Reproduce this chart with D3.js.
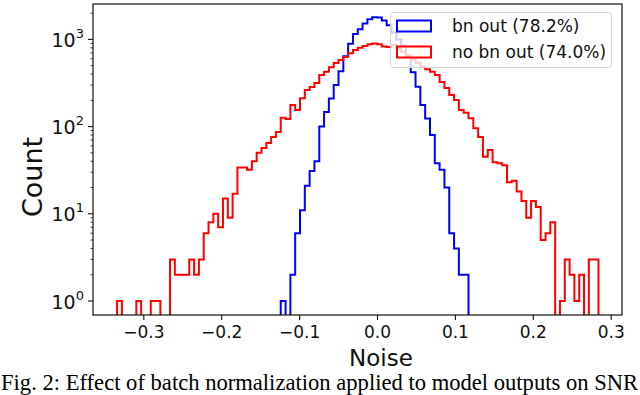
<!DOCTYPE html>
<html>
<head>
<meta charset="utf-8">
<script src="https://cdn.jsdelivr.net/npm/d3@7"></script>
<style>
  body { margin: 0; background: #fff; }
  svg { display: block; }
</style>
</head>
<body>
<script>
// shared histogram bins (100 bins over the "no bn out" range)
var binStart = -0.3337;
var binWidth = 0.00618;

// counts per bin, "no bn out" (red), starting at binStart
var redCounts = [
    1, 0, 0, 0, 1, 0, 0, 1, 1, 0,
    0, 3, 2, 2, 2, 3, 2, 3, 6, 8,
    10, 7, 15, 9, 17, 34, 34, 32, 40, 50,
    57, 65, 76, 87, 126, 122, 177, 155, 212, 263,
    284, 316, 390, 425, 480, 535, 580, 630, 695, 755,
    800, 840, 880, 900, 880, 830, 820, 860, 780, 720,
    660, 590, 540, 490, 455, 425, 390, 325, 277, 230,
    202, 155, 144, 125, 96, 76, 45, 54, 39, 38,
    36, 23, 24, 18, 14, 9, 14, 12, 5, 6,
    8, 0, 1, 3, 2, 1, 2, 0, 3, 3
];

// counts per bin, "bn out" (blue), starting at bin 34 of the shared bins
var blueStart = -0.12358;
var blueCounts = [
    1, 0, 2, 6, 11, 21, 31, 40, 100, 147,
    210, 300, 430, 640, 890, 1150, 1310, 1520, 1700, 1800,
    1780, 1650, 1450, 1200, 1000, 850, 630, 420, 286, 177,
    124, 80, 38, 32, 20, 6, 4, 2, 2
];

var xTicks = [-0.3, -0.2, -0.1, 0.0, 0.1, 0.2, 0.3];
var yTicks = [1, 10, 100, 1000];
var yTickExp = ['0', '1', '2', '3'];
var yMinor = [2, 3, 4, 5, 6, 7, 8, 9, 20, 30, 40, 50, 60, 70, 80, 90,
              200, 300, 400, 500, 600, 700, 800, 900, 2000];

var legendLabels = ['bn out (78.2%)', 'no bn out (74.0%)'];
var seriesColors = ['#0000ff', '#ff0000'];

var W = 640, H = 395;
var pLeft = 93, pRight = 622, pTop = 4, pBottom = 315;

var svg = d3.select('body').append('svg')
    .attr('width', W)
    .attr('height', H)
    .attr('font-family', 'DejaVu Sans, sans-serif');

var x = d3.scaleLinear().domain([-0.3646, 0.3145]).range([pLeft, pRight]);
var y = d3.scaleLog().domain([0.691, 2547]).range([pBottom, pTop]);

svg.append('clipPath').attr('id', 'plot')
    .append('rect')
    .attr('x', pLeft).attr('y', pTop)
    .attr('width', pRight - pLeft).attr('height', pBottom - pTop);

function stepPoints(start, counts) {
    var pts = [[start, 0.1]];
    counts.forEach(function(c, i) {
        var v = c > 0 ? c : 0.1;
        pts.push([start + i * binWidth, v]);
        pts.push([start + (i + 1) * binWidth, v]);
    });
    pts.push([start + counts.length * binWidth, 0.1]);
    return pts;
}

var line = d3.line()
    .x(function(d) { return x(d[0]); })
    .y(function(d) { return Math.min(y(d[1]), pBottom + 20); });

var series = [
    { pts: stepPoints(blueStart, blueCounts), color: seriesColors[0] },
    { pts: stepPoints(binStart, redCounts), color: seriesColors[1] }
];

svg.append('g').attr('clip-path', 'url(#plot)')
    .selectAll('path').data(series).enter().append('path')
    .attr('d', function(d) { return line(d.pts); })
    .attr('fill', 'none')
    .attr('stroke', function(d) { return d.color; })
    .attr('stroke-width', 2)
    .attr('stroke-linejoin', 'miter');

// frame
svg.append('rect')
    .attr('x', pLeft).attr('y', pTop)
    .attr('width', pRight - pLeft).attr('height', pBottom - pTop)
    .attr('fill', 'none')
    .attr('stroke', '#111')
    .attr('stroke-width', 1.2);

// x axis
var xAxis = d3.axisBottom(x)
    .tickValues(xTicks)
    .tickFormat(d3.format('.1f'))
    .tickSize(5)
    .tickPadding(6);

var gx = svg.append('g')
    .attr('transform', 'translate(0,' + pBottom + ')')
    .call(xAxis);
gx.select('.domain').remove();
gx.selectAll('line').attr('stroke', '#111').attr('stroke-width', 1.1);
gx.selectAll('text')
    .attr('font-size', 17)
    .attr('fill', '#111')
    .attr('font-family', 'DejaVu Sans, sans-serif');

// y axis (log)
var gy = svg.append('g');
gy.selectAll('line.minor').data(yMinor).enter().append('line')
    .attr('class', 'minor')
    .attr('x1', pLeft - 2.5).attr('x2', pLeft)
    .attr('y1', function(d) { return y(d); })
    .attr('y2', function(d) { return y(d); })
    .attr('stroke', '#111')
    .attr('stroke-width', 0.8);

gy.selectAll('line.major').data(yTicks).enter().append('line')
    .attr('class', 'major')
    .attr('x1', pLeft - 5).attr('x2', pLeft)
    .attr('y1', function(d) { return y(d); })
    .attr('y2', function(d) { return y(d); })
    .attr('stroke', '#111')
    .attr('stroke-width', 1.1);

var ylab = gy.selectAll('text').data(yTicks).enter().append('text')
    .attr('x', 84)
    .attr('y', function(d) { return y(d) + 7.5; })
    .attr('text-anchor', 'end')
    .attr('font-size', 19)
    .attr('fill', '#111');
ylab.append('tspan').text('10');
ylab.append('tspan')
    .attr('dy', -9)
    .attr('font-size', 13)
    .text(function(d, i) { return yTickExp[i]; });

// axis titles
svg.append('text')
    .attr('x', 381)
    .attr('y', 366)
    .attr('text-anchor', 'middle')
    .attr('font-size', 23)
    .attr('fill', '#111')
    .text('Noise');

svg.append('text')
    .attr('transform', 'translate(42,177) rotate(-90)')
    .attr('text-anchor', 'middle')
    .attr('font-size', 27)
    .attr('fill', '#111')
    .text('Count');

// legend
var lg = svg.append('g');
lg.append('rect')
    .attr('x', 390.5).attr('y', 12.5)
    .attr('width', 221).attr('height', 55)
    .attr('rx', 3)
    .attr('fill', '#fff')
    .attr('fill-opacity', 0.8)
    .attr('stroke', '#d5d5d5')
    .attr('stroke-width', 1);

var items = lg.selectAll('g.item').data(legendLabels).enter().append('g')
    .attr('class', 'item')
    .attr('transform', function(d, i) { return 'translate(0,' + (i * 26) + ')'; });

items.append('rect')
    .attr('x', 397).attr('y', 20.5)
    .attr('width', 34).attr('height', 11)
    .attr('fill', 'none')
    .attr('stroke', function(d, i) { return seriesColors[i]; })
    .attr('stroke-width', 2);

items.append('text')
    .attr('x', 452).attr('y', 32)
    .attr('font-size', 17)
    .attr('fill', '#111')
    .text(function(d) { return d; });

// caption
svg.append('text')
    .attr('x', 1)
    .attr('y', 390)
    .attr('font-family', 'Liberation Serif, Times New Roman, serif')
    .attr('font-size', 22.6)
    .attr('fill', '#000')
    .text('Fig. 2: Effect of batch normalization applied to model outputs on SNR:');
</script>
</body>
</html>
